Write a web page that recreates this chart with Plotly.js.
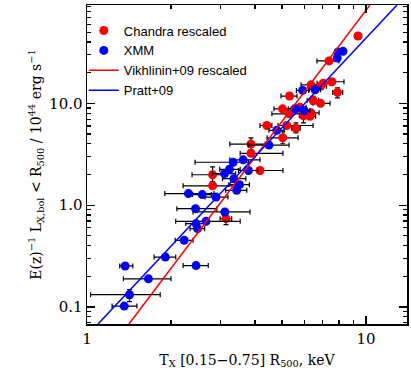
<!DOCTYPE html>
<html>
<head>
<meta charset="utf-8">
<script src="https://cdn.plot.ly/plotly-3.0.1.min.js"></script>
<style>html,body{margin:0;padding:0;background:#fff;}#chart{width:411px;height:378px;}</style>
</head>
<body>
<div id="chart"></div>
<script>
// Chandra rescaled
var chandraT      = [9.36, 7.37, 6.35, 6.87, 7.03, 7.55, 7.90, 5.32, 6.46, 6.87, 5.02, 5.80, 5.30, 5.97, 6.35, 6.30, 4.41, 5.20, 5.61, 5.03, 3.87, 3.87, 4.17, 2.82, 2.82, 3.15];
var chandraL      = [45.9, 26.1, 15.2, 14.7, 15.8, 16.3, 12.8, 11.8, 10.7, 10.0, 8.84, 9.14, 7.89, 7.54, 8.07, 7.46, 6.06, 6.06, 5.69, 4.59, 3.98, 3.23, 2.19, 1.99, 1.55, 0.737];
var chandraTminus = [0.25, 0.70, 0.50, 0.30, 0.35, 0.59, 0.30, 0.36, 0.30, 0.41, 0.34, 0.32, 0.70, 0.20, 0.38, 0.30, 0.24, 0.36, 0.20, 0.61, 0.62, 0.33, 0.39, 0.44, 0.61, 0.15];
var chandraTplus  = [0.28, 0.63, 0.61, 0.35, 0.40, 0.79, 0.35, 0.34, 0.30, 0.56, 0.37, 0.30, 0.50, 0.20, 0.44, 0.30, 0.19, 1.26, 0.20, 0.68, 0.48, 1.17, 0.87, 0.36, 0.72, 0.15];
var chandraLminus = [0, 0, 0, 0, 0, 0, 1.50, 0, 0.90, 0, 0, 0, 0, 1.10, 0, 0, 0, 0, 0.55, 0.58, 0.48, 0, 0, 0.29, 0, 0.093];
var chandraLplus  = [0, 0, 0, 0, 0, 0, 1.37, 0, 1.00, 0, 0, 0, 0, 0.71, 0, 0, 0, 0, 0.75, 0.67, 0.61, 0, 0, 0.39, 0, 0.088];

// XMM
var xmmT      = [7.94, 8.27, 7.89, 5.93, 6.57, 5.57, 6.00, 4.79, 4.49, 3.63, 3.34, 3.79, 3.24, 3.11, 3.36, 3.52, 3.44, 2.31, 2.59, 2.90, 2.45, 3.12, 2.67, 2.46, 2.49, 2.23, 1.91, 1.37, 2.46, 1.66, 1.42, 1.36];
var xmmL      = [32.0, 32.4, 27.9, 13.4, 13.6, 8.84, 8.50, 5.44, 3.89, 2.79, 2.64, 2.19, 2.25, 2.04, 1.82, 1.59, 1.40, 1.30, 1.27, 1.20, 0.924, 0.858, 0.694, 0.659, 0.588, 0.452, 0.309, 0.253, 0.255, 0.189, 0.132, 0.102];
var xmmTminus = [0.20, 0.20, 0.20, 0.30, 0.30, 0.30, 0.30, 0.30, 0.71, 0.38, 0.90, 0.30, 0.25, 0.30, 0.30, 0.30, 0.30, 0.41, 0.20, 0.25, 0.35, 0.72, 0.59, 0.20, 0.15, 0.16, 0.17, 0.06, 0.25, 0.31, 0.39, 0.13];
var xmmTplus  = [0.20, 0.20, 0.20, 0.30, 0.30, 0.30, 0.30, 0.30, 0.81, 0.54, 0.45, 0.30, 0.30, 0.30, 0.35, 0.30, 0.30, 0.54, 0.20, 0.30, 0.47, 0.72, 0.87, 0.20, 0.15, 0.17, 0.17, 0.09, 0.26, 0.34, 0.41, 0.15];
var xmmLminus = [0, 0, 0, 0, 0, 0, 0, 0, 0, 0, 0, 0, 0, 0, 0, 0, 0, 0, 0, 0, 0, 0, 0, 0, 0, 0, 0, 0, 0, 0, 0.019, 0.006];
var xmmLplus  = [0, 0, 0, 0, 0, 0, 0, 0, 0, 0, 0, 0, 0, 0, 0, 0, 0, 0, 0, 0, 0, 0, 0, 0, 0, 0, 0, 0, 0, 0, 0.016, 0.006];

// Relations (end points of the straight lines)
var vikhT  = [1.414, 10.33];
var vikhL  = [0.068, 92.4];
var prattT = [1.095, 12.92];
var prattL = [0.068, 92.4];

var xTickVals = [1, 10];
var xTickText = ['1', '10'];
var yTickVals = [0.1, 1, 10];
var yTickText = ['0.1', '1.0', '10.0'];

var errStyle = {color: '#000000', thickness: 1.2, width: 2.5};

var traces = [
  {type: 'scatter', mode: 'markers', name: 'Chandra rescaled', x: chandraT, y: chandraL,
   marker: {color: '#ff0000', size: 9, line: {width: 0}},
   error_x: Object.assign({type: 'data', symmetric: false, array: chandraTplus, arrayminus: chandraTminus}, errStyle),
   error_y: Object.assign({type: 'data', symmetric: false, array: chandraLplus, arrayminus: chandraLminus}, errStyle)},
  {type: 'scatter', mode: 'markers', name: 'XMM', x: xmmT, y: xmmL,
   marker: {color: '#0000ff', size: 9, line: {width: 0}},
   error_x: Object.assign({type: 'data', symmetric: false, array: xmmTplus, arrayminus: xmmTminus}, errStyle),
   error_y: Object.assign({type: 'data', symmetric: false, array: xmmLplus, arrayminus: xmmLminus}, errStyle)},
  {type: 'scatter', mode: 'lines', name: 'Vikhlinin+09 rescaled', x: vikhT, y: vikhL,
   line: {color: '#ff0000', width: 1.5}},
  {type: 'scatter', mode: 'lines', name: 'Pratt+09', x: prattT, y: prattL,
   line: {color: '#0000ff', width: 1.5}}
];

var axisCommon = {
  type: 'log', showgrid: false, zeroline: false,
  showline: true, linecolor: '#000', linewidth: 1.5, mirror: 'allticks',
  ticks: 'inside', ticklen: 8, tickwidth: 1.2, tickcolor: '#000',
  tickmode: 'array',
  tickfont: {family: 'DejaVu Serif, serif', size: 15, color: '#000'},
  minor: {ticks: 'inside', ticklen: 4, tickwidth: 1.2, tickcolor: '#000', dtick: 'D1', showgrid: false}
};

var layout = {
  width: 411, height: 378,
  margin: {l: 87, r: 4, t: 5, b: 54},
  paper_bgcolor: '#fff', plot_bgcolor: '#fff',
  showlegend: true,
  legend: {x: -0.01, y: 0.967, xanchor: 'left', yanchor: 'top', bgcolor: 'rgba(0,0,0,0)',
           font: {family: 'Liberation Sans, Arial, sans-serif', size: 13, color: '#000'},
           tracegroupgap: 0, itemwidth: 30},
  xaxis: Object.assign({}, axisCommon, {
    range: [0, 1.147], tickvals: xTickVals, ticktext: xTickText,
    title: {text: 'T<sub>X</sub> [0.15\u22120.75] R<sub>500</sub>, keV',
            font: {family: 'DejaVu Serif, serif', size: 14, color: '#000'}, standoff: 8}
  }),
  yaxis: Object.assign({}, axisCommon, {
    range: [-1.167, 1.966], tickvals: yTickVals, ticktext: yTickText,
    title: {text: 'E(z)<sup>\u22121</sup> L<sub>X,bol</sub> &lt; R<sub>500</sub> / 10<sup>44</sup> erg s<sup>\u22121</sup>',
            font: {family: 'DejaVu Serif, serif', size: 14, color: '#000'}, standoff: 4}
  })
};

Plotly.newPlot('chart', traces, layout, {displayModeBar: false, staticPlot: true});
</script>
</body>
</html>
